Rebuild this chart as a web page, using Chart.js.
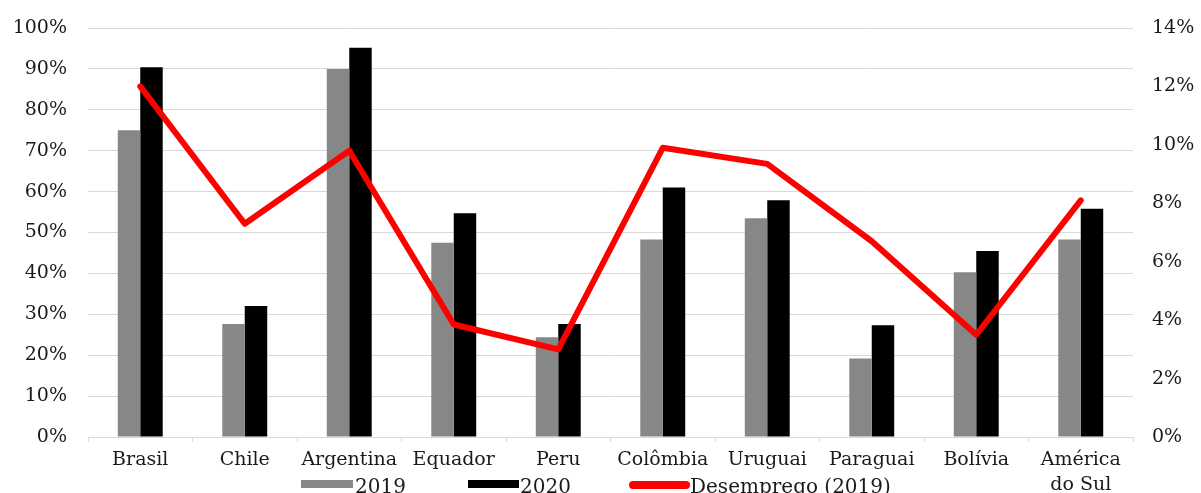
<!DOCTYPE html>
<html>
<head>
<meta charset="utf-8">
<script src="https://cdn.jsdelivr.net/npm/chart.js@4/dist/chart.umd.min.js"></script>
<style>
  html, body { margin:0; padding:0; background:#fff; }
  #wrap { position:relative; width:1201px; height:493px; overflow:hidden; }
  canvas { position:absolute; left:0; top:0; }
  .lg { position:absolute; font-family:"DejaVu Serif", serif; font-size:20px; color:#1a1a1a; line-height:20px; white-space:nowrap; }
  .sw { position:absolute; }
</style>
</head>
<body>
<div id="wrap">
  <canvas id="c" width="1201" height="493"></canvas>
  <div class="sw" style="left:301px;top:480px;width:52px;height:8px;background:#878787"></div>
  <div class="lg" style="left:355px;top:476px">2019</div>
  <div class="sw" style="left:468px;top:480px;width:51px;height:8px;background:#000"></div>
  <div class="lg" style="left:520px;top:476px">2020</div>
  <div class="sw" style="left:629px;top:481px;width:61px;height:8px;background:#ff0000;border-radius:4px"></div>
  <div class="lg" style="left:690px;top:476px">Desemprego (2019)</div>
</div>
<script>
const categories = ["Brasil","Chile","Argentina","Equador","Peru","Colômbia","Uruguai","Paraguai","Bolívia",["América","do Sul"]];
const values2019 = [75.0, 27.6, 90.0, 47.5, 24.4, 48.3, 53.5, 19.2, 40.3, 48.3];
const values2020 = [90.4, 32.0, 95.2, 54.7, 27.6, 61.0, 57.9, 27.3, 45.5, 55.8];
const desemprego2019 = [12.0, 7.3, 9.8, 3.85, 3.0, 9.9, 9.35, 6.7, 3.5, 8.1];
const leftTicks = [0,10,20,30,40,50,60,70,80,90,100];
const rightTicks = [0,2,4,6,8,10,12,14];

const font = { family: "DejaVu Serif", size: 19 };
const txt = "#1a1a1a";

new Chart(document.getElementById("c"), {
  type: "bar",
  data: {
    labels: categories,
    datasets: [
      { type:"line", label:"Desemprego (2019)", data: desemprego2019, yAxisID:"y1",
        borderColor:"#ff0000", backgroundColor:"#ff0000", borderWidth:6, pointRadius:0,
        borderJoinStyle:"round", borderCapStyle:"round", tension:0, order:0 },
      { label:"2019", data: values2019, yAxisID:"y", backgroundColor:"#878787",
        categoryPercentage:0.43, barPercentage:1.0, order:1 },
      { label:"2020", data: values2020, yAxisID:"y", backgroundColor:"#000000",
        categoryPercentage:0.43, barPercentage:1.0, order:1 }
    ]
  },
  options: {
    responsive:false, animation:false, devicePixelRatio:1,
    layout:{ padding:{ top:28, left:0, right:0, bottom:0 } },
    plugins:{ legend:{ display:false }, tooltip:{ enabled:false } },
    scales:{
      x:{
        offset:true,
        grid:{ offset:true, drawOnChartArea:false, drawTicks:true, tickLength:5, color:"#d9d9d9" },
        border:{ display:true, color:"#d9d9d9" },
        ticks:{ font:{ family:"DejaVu Serif", size:19, lineHeight:1.3 }, color:txt, padding:6, maxRotation:0, autoSkip:false },
        afterFit(s){ s.height = 56; s.paddingLeft = 0; s.paddingRight = 0; }
      },
      y:{
        position:"left", min:0, max:100,
        afterBuildTicks(s){ s.ticks = leftTicks.map(v=>({value:v})); },
        grid:{ color:"#d9d9d9", drawTicks:false },
        border:{ display:false },
        ticks:{ font, color:txt, padding:21, callback:v=>v+"%" },
        afterFit(s){ s.width = 88; s.paddingTop = 0; s.paddingBottom = 0; }
      },
      y1:{
        position:"right", min:0, max:14,
        afterBuildTicks(s){ s.ticks = rightTicks.map(v=>({value:v})); },
        grid:{ drawOnChartArea:false, drawTicks:false },
        border:{ display:false },
        ticks:{ font, color:txt, padding:19, callback:v=>v+"%" },
        afterFit(s){ s.width = 68; s.paddingTop = 0; s.paddingBottom = 0; }
      }
    }
  }
});
</script>
</body>
</html>
